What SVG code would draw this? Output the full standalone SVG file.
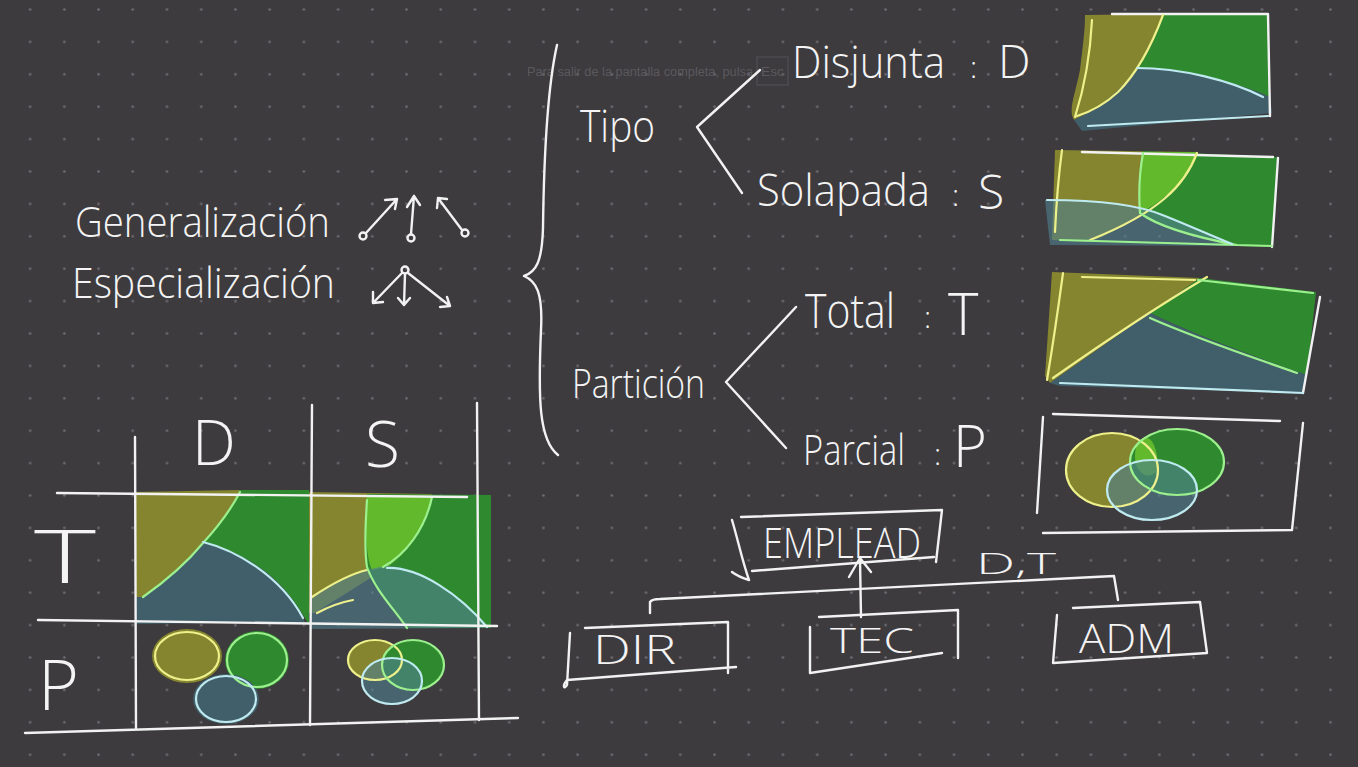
<svg xmlns="http://www.w3.org/2000/svg" width="1358" height="767" viewBox="0 0 1358 767">
<defs>
<pattern id="dots" x="13" y="-6.7" width="34.22" height="32.4" patternUnits="userSpaceOnUse">
<circle cx="17.11" cy="16.2" r="1.3" fill="#6f6d72"/>
</pattern>
<style>
.w{stroke:#f2f2f2;stroke-width:2.4;fill:none;stroke-linecap:round;stroke-linejoin:round}
.h{font-family:"Open Sans","Liberation Sans",sans-serif;font-weight:300;fill:#f4f4f4}
.yl{stroke:#eef08c;stroke-width:2.2;fill:none;stroke-linecap:round}
.gl{stroke:#9cf08e;stroke-width:2.2;fill:none;stroke-linecap:round}
.bl{stroke:#bfeaf0;stroke-width:2.2;fill:none;stroke-linecap:round}
.fy{fill:#85852f}
.fg{fill:#2f8a2f}
.fb{fill:#415f6a}
.fl{fill:#63b92c}
.fbt{fill:#4f7f8e;fill-opacity:0.62}
.faint{font-family:"Liberation Sans",sans-serif;font-size:12.5px;fill:#5b595d}
</style>
</defs>
<rect width="1358" height="767" fill="#3d3b3e"/>
<rect width="1358" height="767" fill="url(#dots)"/>

<rect x="757" y="57" width="31" height="28" fill="none" stroke="#555357" stroke-width="1"/>
<text class="faint" x="527" y="76"><tspan textLength="226" lengthAdjust="spacingAndGlyphs">Para salir de la pantalla completa, pulsa</tspan><tspan x="761" textLength="23" lengthAdjust="spacingAndGlyphs">Esc</tspan></text>

<g id="generalizacion">
<text class="h" x="75" y="237" font-size="42" textLength="255" lengthAdjust="spacingAndGlyphs">Generalización</text>
<g class="w">
<circle cx="363" cy="236" r="3.5"/><path d="M366,233 L397,199 M385,200 L397,199 L395,209"/>
<circle cx="411" cy="238" r="3.5"/><path d="M411,234 L414,196 M407,207 L414,196 L420,205"/>
<circle cx="465" cy="233" r="3.5"/><path d="M462,230 L438,198 M437,208 L438,198 L447,199"/>
</g>
</g>

<g id="especializacion">
<text class="h" x="72" y="298" font-size="42" textLength="263" lengthAdjust="spacingAndGlyphs">Especialización</text>
<g class="w">
<circle cx="405" cy="270" r="3.5"/>
<path d="M402,273 L373,303 M373,292 L373,303 L383,302"/>
<path d="M405,274 L404,305 M398,298 L404,305 L410,298"/>
<path d="M408,273 L450,306 M440,307 L450,306 L447,297"/>
</g>
</g>

<g id="llave">
<path class="w" d="M557,45 C548,85 544,150 543,228 C542,262 536,272 524,276 C536,281 543,292 541,330 C538,400 539,440 558,455"/>
</g>

<g id="tipo"><text class="h" x="580" y="142" font-size="44" textLength="75" lengthAdjust="spacingAndGlyphs">Tipo</text></g>
<g id="disjunta">
<text class="h" x="792" y="78" font-size="44"><tspan textLength="153" lengthAdjust="spacingAndGlyphs">Disjunta</tspan><tspan x="970" font-size="30">:</tspan><tspan x="998" font-size="46">D</tspan></text>
</g>
<g id="solapada">
<text class="h" x="757" y="206" font-size="44"><tspan textLength="173" lengthAdjust="spacingAndGlyphs">Solapada</tspan><tspan x="952" font-size="30">:</tspan><tspan x="978" y="209" font-size="48">S</tspan></text>
</g>
<g id="particion"><text class="h" x="572" y="398" font-size="40" textLength="133" lengthAdjust="spacingAndGlyphs">Partición</text></g>
<g id="total">
<text class="h" x="805" y="328" font-size="48"><tspan textLength="90" lengthAdjust="spacingAndGlyphs">Total</tspan><tspan x="924" font-size="30">:</tspan><tspan x="948" y="335" font-size="58">T</tspan></text>
</g>
<g id="parcial">
<text class="h" x="803" y="465" font-size="40"><tspan font-size="42" textLength="102" lengthAdjust="spacingAndGlyphs">Parcial</tspan><tspan x="934" font-size="30">:</tspan><tspan x="953" y="467" font-size="58">P</tspan></text>
</g>

<g id="connectors">
<path class="w" d="M760,70 L697,127 L742,193"/>
<path class="w" d="M796,307 L726,382 L786,448"/>
<path class="w" d="M861,617 L860,559 M849,577 L860,558 L871,572"/>
<path class="w" d="M650,613 L650,602 Q652,599 660,599 L1114,576 L1118,600"/>
</g>

<g id="img-disjunta">
<path class="fy" d="M1085,15 L1163,14 C1155,40 1146,58 1137,68 C1120,92 1100,108 1074,120 C1068,110 1075,95 1080,70 C1083,45 1085,30 1085,15 Z"/>
<path class="fg" d="M1163,14 L1268,13 L1270,97 C1230,80 1180,68 1137,68 C1148,55 1157,35 1163,14 Z"/>
<path class="fb" d="M1074,120 C1100,108 1120,92 1137,68 C1180,68 1230,80 1270,97 L1272,113 L1082,131 Z"/>
<path class="w" d="M1112,14 L1268,14 L1270,116"/>
<path class="yl" d="M1092,20 C1090,60 1082,95 1075,117 M1163,15 C1150,50 1135,75 1118,92 C1105,104 1090,112 1077,116"/>
<path class="bl" d="M1137,68 C1180,68 1230,80 1263,97 M1088,126 L1268,116"/>
</g>

<g id="img-solapada">
<path class="fy" d="M1055,150 L1197,152 C1185,185 1160,212 1090,242 L1052,240 Z"/>
<path class="fg" d="M1143,151 L1277,157 L1273,247 L1237,246 C1200,235 1150,225 1140,213 C1138,190 1140,170 1143,151 Z"/>
<path class="fl" d="M1143,152 L1197,152 C1187,180 1165,200 1140,213 C1139,190 1140,170 1143,152 Z"/>
<path class="fbt" d="M1045,200 C1100,200 1140,205 1160,215 C1190,225 1215,235 1237,246 L1050,245 Z"/>
<path class="w" d="M1082,152 L1273,157 M1278,158 L1272,247"/>
<path class="yl" d="M1062,150 C1058,180 1056,210 1055,232 M1197,153 C1185,185 1160,212 1090,240"/>
<path class="gl" d="M1143,153 C1139,175 1139,200 1140,213 C1160,228 1200,238 1237,245 M1060,240 L1272,246"/>
<path class="bl" d="M1047,200 C1100,200 1140,205 1165,216 C1190,226 1212,236 1232,244"/>
</g>

<g id="img-total">
<path class="fy" d="M1052,272 L1200,278 L1050,383 L1045,376 Z"/>
<path class="fg" d="M1200,278 L1316,292 L1307,375 C1255,357 1195,335 1150,313 Z"/>
<path class="fb" d="M1050,383 L1150,313 C1195,335 1255,357 1307,375 L1303,393 L1060,386 Z"/>
<path class="yl" d="M1063,273 C1058,310 1052,350 1047,380 M1082,277 L1195,280 M1053,378 C1100,345 1160,305 1207,277"/>
<path class="gl" d="M1198,280 L1313,293 M1150,318 C1200,340 1255,358 1297,373"/>
<path class="w" d="M1320,297 L1303,393"/>
<path class="bl" d="M1060,383 L1303,393"/>
</g>

<g id="img-parcial">
<path class="w" d="M1053,414 L1280,421 M1043,417 L1037,513 M1303,423 L1292,530 M1043,533 L1292,530"/>
<ellipse class="fy" cx="1112" cy="470" rx="46" ry="37"/>
<ellipse class="fg" cx="1177" cy="462" rx="47" ry="33"/>
<path class="fl" d="M1140,440 C1150,432 1158,445 1158,470 C1150,480 1140,475 1136,465 C1134,455 1135,446 1140,440 Z"/>
<ellipse class="fbt" cx="1152" cy="490" rx="45" ry="30"/>
<ellipse class="yl" cx="1112" cy="470" rx="46" ry="37"/>
<ellipse class="gl" cx="1177" cy="462" rx="47" ry="33"/>
<ellipse class="bl" cx="1152" cy="490" rx="45" ry="30"/>
</g>

<g id="tabla">
<path class="fy" d="M135,492 L240,490 C228,515 215,530 203,543 C185,565 160,585 143,597 L135,597 Z"/>
<path class="fg" d="M240,490 L309,490 L309,625 C295,600 280,580 253,563 C235,552 215,545 203,543 C215,530 228,515 240,490 Z"/>
<path class="fb" d="M143,597 C160,585 185,565 203,543 C215,545 235,552 253,563 C280,580 295,600 305,622 L135,624 L135,597 Z"/>
<path class="gl" d="M240,492 C228,515 215,530 203,543 C185,565 160,585 143,597"/>
<path class="bl" d="M203,542 C235,550 280,575 303,618"/>

<path class="fy" d="M309,492 L432,494 C425,530 405,555 387,567 C360,585 335,600 315,613 L309,613 Z"/>
<path class="fg" d="M367,494 L491,495 L491,628 L407,628 C390,605 370,585 367,567 C365,540 366,515 367,494 Z"/>
<path class="fl" d="M367,495 L432,496 C425,530 405,555 387,567 L372,570 C367,560 366,540 366,520 C366,510 366,500 367,495 Z"/>
<path class="fbt" d="M310,597 C340,580 365,568 387,566 C420,566 460,595 489,628 L310,629 Z"/>
<path class="yl" d="M312,597 C330,585 350,574 367,570 M317,613 C330,606 342,602 353,600"/>
<path class="gl" d="M367,500 C365,530 365,555 367,567 C375,590 395,610 407,628 M432,497 C425,530 405,555 383,567"/>
<path class="bl" d="M387,568 C420,567 460,595 487,627"/>

<g class="w">
<path d="M135,437 L136,728 M312,405 L310,725 M477,403 L479,720"/>
<path d="M57,493 L467,497 M38,620 L497,626 M25,733 L518,718"/>
</g>
<text class="h" x="192" y="465" font-size="62">D</text>
<text class="h" x="365" y="467" font-size="64">S</text>
<text class="h" x="34" y="583" font-size="74" textLength="62" lengthAdjust="spacingAndGlyphs">T</text>
<text class="h" x="38" y="710" font-size="70">P</text>

<ellipse class="fy" cx="187" cy="656" rx="35" ry="27"/>
<ellipse class="fg" cx="257" cy="660" rx="32" ry="29"/>
<ellipse class="fb" cx="226" cy="699" rx="33" ry="25"/>
<ellipse class="yl" cx="187" cy="656" rx="32" ry="24"/>
<ellipse class="gl" cx="257" cy="660" rx="30" ry="27"/>
<ellipse class="bl" cx="226" cy="699" rx="30" ry="23"/>

<ellipse class="fy" cx="375" cy="660" rx="27" ry="20"/>
<ellipse class="fg" cx="413" cy="665" rx="31" ry="25"/>
<ellipse class="fbt" cx="392" cy="681" rx="30" ry="23"/>
<ellipse class="yl" cx="375" cy="660" rx="27" ry="20"/>
<ellipse class="gl" cx="413" cy="665" rx="31" ry="25"/>
<ellipse class="bl" cx="392" cy="681" rx="30" ry="23"/>
</g>

<g id="empleado">
<path class="w" d="M741,517 L942,510 L936,562 M732,520 C738,540 742,560 749,580 C742,578 736,575 732,572 M752,571 L934,557"/>
<text class="h" x="763" y="558" font-size="42" textLength="158" lengthAdjust="spacingAndGlyphs">EMPLEAD</text>
</g>
<g id="dt"><text class="h" x="976" y="574" font-size="30" textLength="80" lengthAdjust="spacingAndGlyphs">D,T</text></g>
<g id="dir">
<path class="w" d="M585,628 L728,622 L728,673 M570,633 L567,685 C564,690 562,686 567,680 L736,667"/>
<text class="h" x="593" y="664" font-size="40" textLength="83" lengthAdjust="spacingAndGlyphs">DIR</text>
</g>
<g id="tec">
<path class="w" d="M819,617 L958,610 L958,658 M810,627 L810,673 L942,653"/>
<text class="h" x="830" y="653" font-size="34" textLength="84" lengthAdjust="spacingAndGlyphs">TEC</text>
</g>
<g id="adm">
<path class="w" d="M1073,608 L1200,602 L1207,653 L1053,663 L1057,615"/>
<text class="h" x="1079" y="653" font-size="40" textLength="95" lengthAdjust="spacingAndGlyphs">ADM</text>
</g>
</svg>
